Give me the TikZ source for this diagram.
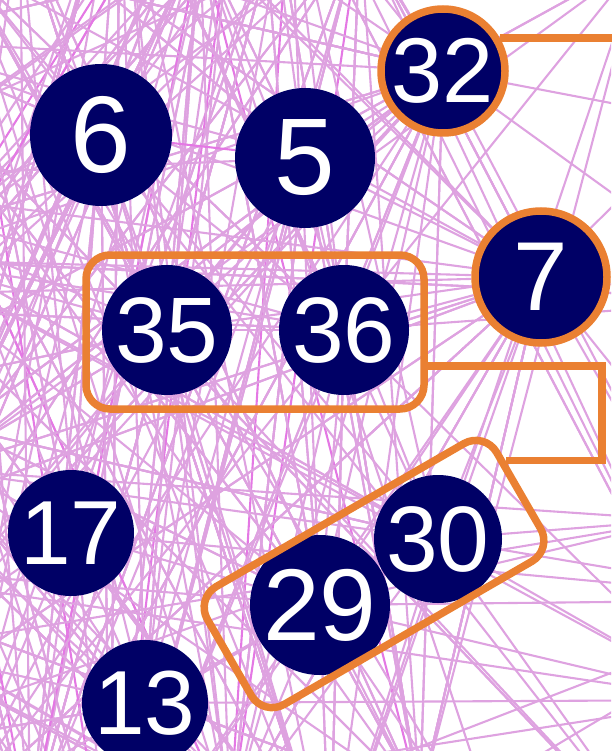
\documentclass[tikz,border=0pt]{standalone}
\usepackage{fontspec}
\setmainfont{Liberation Sans}
\usetikzlibrary{backgrounds,calc}

\definecolor{navy}{RGB}{0,0,102}
\definecolor{hlorange}{RGB}{234,128,50}
\definecolor{plum}{RGB}{222,162,224}
\definecolor{orchid}{RGB}{228,120,228}

\tikzset{
  vert/.style 2 args={circle,fill=navy,text=white,inner sep=0pt,
    minimum size=#1,font=\fontsize{#2}{#2}\selectfont},
  hub/.style 2 args={vert={#1}{#2},draw=hlorange,line width=7.5pt},
  link/.style={plum,line width=2.1pt},
  hot/.style={orchid,line width=2.1pt},
  hl/.style={hlorange,line width=7.5pt},
  group/.style={draw=hlorange,line width=7.5pt,rounded corners=24pt,inner sep=0pt}
}

\begin{document}
\begin{tikzpicture}[x=1pt,y=-1pt]
  \useasboundingbox (0,0) rectangle (611,751);

  % visible vertices
  \node[vert={142pt}{109}] (n6) at (101,135) {6};
  \node[vert={140pt}{109}] (n5) at (305,158) {5};
  \node[vert={130pt}{93}] (n35) at (167,330) {35};
  \node[vert={130pt}{93}] (n36) at (344,330) {36};
  \node[vert={126pt}{91}] (n17) at (71,533) {17};
  \node[vert={126pt}{91}] (n13) at (145,703) {13};
  \node[vert={128pt}{93}] (n30) at (438,539) {30};
  \node[vert={140pt}{102}] (n29) at (320,605) {29};
  \node[hub={124pt}{92}] (n32) at (443,71) {32};
  \node[hub={132pt}{98}] (n7) at (541,277) {7};

  % neighbours outside the frame
  \foreach \i/\x/\y in {1/-120/40, 2/-200/180, 3/-90/260, 4/-160/400,
      5/-60/470, 6/-220/560, 7/-100/650, 8/-180/760, 9/20/-80,
      10/120/-150, 11/200/-60, 12/290/-120, 13/360/-70, 14/-40/-40,
      15/250/-250, 16/30/830, 17/110/900, 18/230/820, 19/330/880,
      20/420/800, 21/-50/820, 22/-300/300, 23/700/120, 24/760/300,
      25/680/520, 26/720/700, 27/800/600, 28/560/-100, 29/640/-40,
      30/680/880, 31/520/900, 32/460/-200}
    \coordinate (h\i) at (\x,\y);

  % edges
  \begin{scope}[on background layer]
    \clip (0,0) rectangle (611,751);
    \pgfmathsetseed{17}
    \foreach \k in {1,...,260} {
      \pgfmathrandominteger{\a}{1}{22}
      \pgfmathrandominteger{\b}{1}{22}
      \pgfmathrandominteger{\c}{1}{6}
      \ifnum\c=1 \draw[hot] (h\a) -- (h\b); \else \draw[link] (h\a) -- (h\b); \fi
    }
    \foreach \k in {1,...,30} {
      \pgfmathrandominteger{\a}{1}{22}
      \pgfmathrandominteger{\b}{23}{32}
      \draw[link] (h\a) -- (h\b);
    }
    \foreach \v/\m in {6/18,5/18,35/20,36/22,17/16,13/14,29/18,30/14,32/34,7/30} {
      \foreach \k in {1,...,\m} {
        \pgfmathrandominteger{\a}{1}{22}
        \draw[link] (n\v) -- (h\a);
      }
    }
    \foreach \v/\w in {32/24,32/25,32/23,7/24,7/25,7/27,30/25,30/27,29/26,29/27,
        36/26,30/30,29/31,7/23,36/24,30/26,29/25,13/26,17/27,35/30}
      \draw[link] (n\v) -- (h\w);
    \foreach \v/\w in {32/5,32/36,32/35,7/36,7/35,7/5,35/36,36/29,29/30,
        17/13,6/35,5/36,32/29,7/30,7/29,17/29,13/29,6/36}
      \draw[link] (n\v) -- (n\w);
    \draw[hot] (n6) -- (n5);
  \end{scope}

  % highlighted groups
  \node[group,minimum width=338pt,minimum height=154pt] (grp1) at (255,332) {};
  \node[group,rotate=30,minimum width=334pt,minimum height=136pt] (grp2) at (374,574) {};
  \coordinate (tip) at ($(grp2.east)!0.45!(grp2.north east)$);
  \coordinate (far) at (640,0);
  \draw[hl] ([yshift=-34pt]grp1.east) -- ++(174,0) |- (tip);
  \draw[hl] (n32.30) -- (n32.30 -| far);
\end{tikzpicture}
\end{document}
